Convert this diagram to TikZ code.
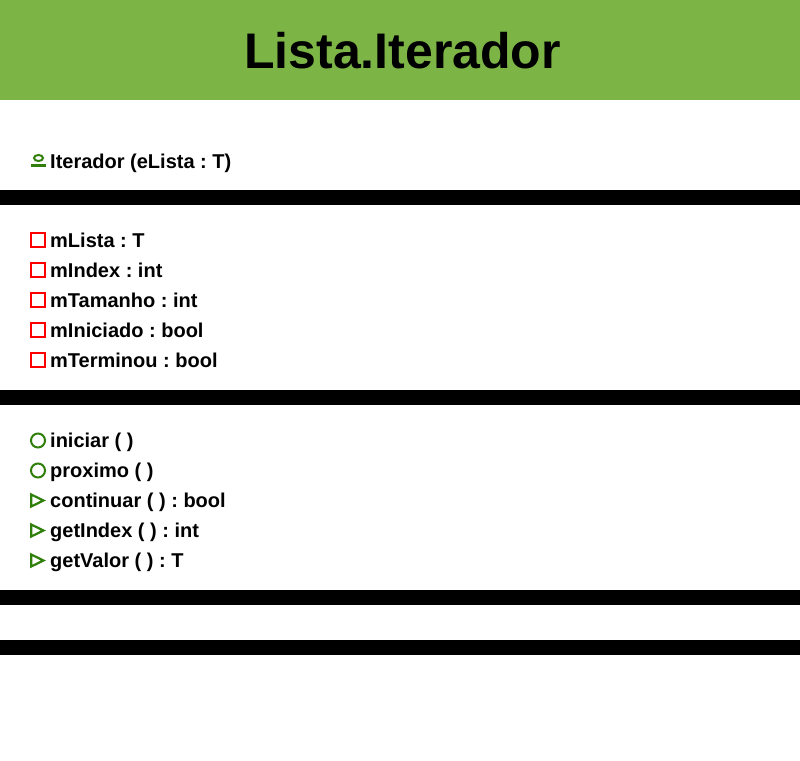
\documentclass[tikz,border=0pt]{standalone}
\usepackage{fontspec}
\usetikzlibrary{shapes.geometric}
\setmainfont{Liberation Sans}
\frenchspacing
\definecolor{headgreen}{HTML}{7CB445}
\definecolor{icongreen}{HTML}{2F7F0A}
\definecolor{iconred}{HTML}{FF0000}
\tikzset{
  bar/.style={fill=black, draw=none, minimum width=800pt, minimum height=15pt, inner sep=0, outer sep=0, anchor=north west},
  member/.style={inner sep=0, anchor=west, font=\fontsize{20}{20}\bfseries\selectfont, text height=14.5pt, text depth=4pt},
  attr/.style={draw=iconred, line width=2pt, minimum size=14pt, inner sep=0},
  meth/.style={circle, draw=icongreen, line width=2pt, minimum size=14pt, inner sep=0},
  conico/.style={ellipse, draw=icongreen, line width=2pt, minimum width=9pt, minimum height=6pt, inner sep=0},
  tri/.style={draw=icongreen, line width=2.2pt, line join=miter}
}
\begin{document}
\begin{tikzpicture}[x=1pt,y=-1pt]
\useasboundingbox (0,0) rectangle (800,760);
\node[fill=headgreen, minimum width=800pt, minimum height=100pt, inner sep=0, anchor=north west] (head) at (0,0){};
\node[font=\fontsize{50}{50}\bfseries\selectfont, inner sep=0] (title) at (402.5,51){Lista.Iterador};
% bars
\node[bar] (bar0) at (0,190){};
\node[bar] (bar1) at (0,390){};
\node[bar] (bar2) at (0,590){};
\node[bar] (bar3) at (0,640){};
% constructor
\node[conico] (ico0) at (38.5,158){};
\coordinate (ico0a) at (31,165.5);
\coordinate (ico0b) at (45.5,165.5);
\draw[icongreen, line width=3pt] (ico0a) -- (ico0b);
\node[member] (con0) at (50,163){Iterador (eLista : T)};
% attributes
\foreach \n/\y/\t in {1/240/mLista : T, 2/270/mIndex : int, 3/300/mTamanho : int, 4/330/mIniciado : bool, 5/360/mTerminou : bool}{
  \node[attr] (ica\n) at (38,\y){};
  \node[member] (att\n) at (50,\y+2.5){\t};
}
% methods
\foreach \n/\y/\t in {1/440/iniciar ( ), 2/470/proximo ( )}{
  \node[meth] (icm\n) at (38,\y+0.5){};
  \node[member] (met\n) at (50,\y+2.5){\t};
}
\foreach \n/\y/\t in {3/500/continuar ( ) : bool, 4/530/getIndex ( ) : int, 5/560/getValor ( ) : T}{
  \draw[tri] (31.2,\y-5.5) -- (43.5,\y+0.5) -- (31.2,\y+6.5) -- cycle;
  \node[member] (met\n) at (50,\y+2.5){\t};
}
\end{tikzpicture}
\end{document}
